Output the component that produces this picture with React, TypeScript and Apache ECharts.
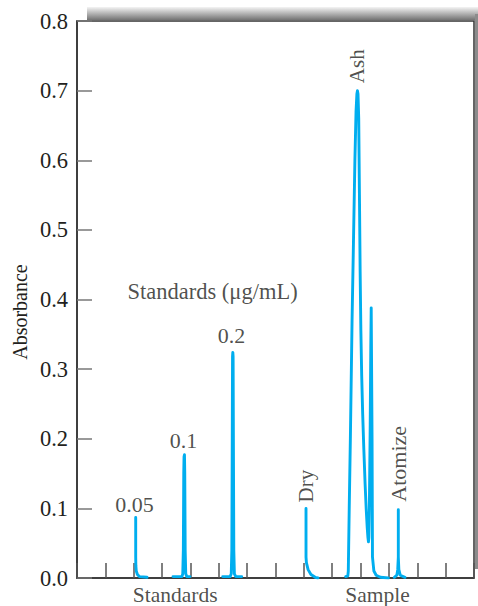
import React, { useEffect, useRef } from "react";
import * as echarts from "echarts";

// x positions are in units of the bottom tick spacing (0..14)
const peak005: number[][] = [
  [2.07, 0.087], [2.07, 0.03], [2.075, 0.018], [2.09, 0.01], [2.13, 0.005], [2.2, 0.002], [2.47, 0.001],
];
const peak01: number[][] = [
  [3.385, 0.002], [3.7, 0.002], [3.73, 0.006], [3.75, 0.04], [3.765, 0.15], [3.775, 0.174], [3.79, 0.177],
  [3.8, 0.15], [3.815, 0.04], [3.835, 0.006], [3.87, 0.002], [3.985, 0.002],
];
const peak02: number[][] = [
  [5.138, 0.002], [5.4, 0.002], [5.44, 0.006], [5.46, 0.04], [5.475, 0.2], [5.485, 0.318], [5.495, 0.324],
  [5.505, 0.318], [5.515, 0.2], [5.53, 0.04], [5.55, 0.006], [5.6, 0.002], [5.808, 0.002],
];
const peakDry: number[][] = [
  [8.076, 0.1], [8.076, 0.03], [8.09, 0.022], [8.15, 0.012], [8.25, 0.005], [8.4, 0.001], [8.5, 0.0],
];
const peakAsh: number[][] = [
  [9.476, 0.002], [9.55, 0.003], [9.567, 0.01], [9.6, 0.1], [9.64, 0.2], [9.7, 0.37], [9.744, 0.47],
  [9.8, 0.6], [9.84, 0.67], [9.87, 0.695], [9.89, 0.7], [9.91, 0.695], [9.935, 0.66], [9.96, 0.55],
  [9.985, 0.44], [10.01, 0.356], [10.04, 0.29], [10.075, 0.235], [10.115, 0.185], [10.16, 0.135],
  [10.2, 0.098], [10.235, 0.072], [10.26, 0.058], [10.278, 0.052], [10.292, 0.058], [10.31, 0.1],
  [10.34, 0.22], [10.36, 0.33], [10.375, 0.388], [10.395, 0.388], [10.405, 0.2], [10.42, 0.03],
  [10.47, 0.01], [10.55, 0.004], [10.7, 0.001], [10.98, 0.0],
];
const peakAtomize: number[][] = [
  [11.19, 0.001], [11.28, 0.004], [11.31, 0.012], [11.331, 0.03], [11.331, 0.098], [11.331, 0.03],
  [11.35, 0.012], [11.4, 0.004], [11.567, 0.001],
];

const annText = ["0.05", "0.1", "0.2", "Standards (\u03bcg/mL)", "Dry", "Ash", "Atomize", "Standards", "Sample"];
const annX = [2.03, 3.755, 5.45, 4.78, 8.09, 9.86, 11.33, 3.46, 10.6];
const annY = [0.106, 0.198, 0.348, 0.411, 0.132, 0.735, 0.164, -0.0245, -0.0245];
const annRotate = [0, 0, 0, 0, 90, 90, 90, 0, 0];
const annSize = [22, 22, 22, 22.5, 21, 21, 22, 21.5, 21.5];

const FONT = "'Liberation Serif', 'Times New Roman', serif";
const INK = "#231f20";
const BLUE = "#00aeef";

export default function App() {
  const ref = useRef<HTMLDivElement>(null);
  useEffect(() => {
    if (!ref.current) return;
    const chart = echarts.init(ref.current, null, { renderer: "svg" });
    const peaks = [peak005, peak01, peak02, peakDry, peakAsh, peakAtomize];
    const lineSeries = peaks.map((d) => ({
      type: "line",
      data: d,
      showSymbol: false,
      symbol: "none",
      smooth: false,
      lineStyle: { color: BLUE, width: 2.9, cap: "round", join: "round" },
      z: 3,
    }));
    const annData = annText.map((t, i) => ({
      value: [annX[i], annY[i]],
      name: t,
      label: { rotate: annRotate[i], fontSize: annSize[i], lineHeight: annSize[i] },
    }));
    chart.setOption({
      animation: false,
      grid: {
        left: 77, right: 4, top: 21, bottom: 28,
        show: true, borderColor: "#333", borderWidth: 1.5, backgroundColor: "transparent",
      },
      xAxis: {
        type: "value", min: 0, max: 14, interval: 1,
        axisLine: { lineStyle: { color: "#333", width: 1.5 } },
        axisTick: { show: true, inside: true, length: 15, lineStyle: { color: "#555", width: 1.5 } },
        axisLabel: { show: false },
        splitLine: { show: false },
      },
      yAxis: {
        type: "value", min: 0, max: 0.8, interval: 0.1,
        axisLine: { show: true, lineStyle: { color: "#333", width: 1.5 } },
        axisTick: { show: true, inside: true, length: 15, lineStyle: { color: "#777", width: 1.5 } },
        axisLabel: {
          margin: 9, fontSize: 22.5, fontFamily: FONT, color: INK,
          formatter: (v: number) => v.toFixed(1),
        },
        splitLine: { show: false },
      },
      graphic: [
        {
          type: "rect", shape: { x: 87, y: 7, width: 391, height: 13.5 }, silent: true,
          style: {
            fill: new echarts.graphic.LinearGradient(0, 0, 0, 1, [
              { offset: 0, color: "#f4f4f4" },
              { offset: 1, color: "#6e6e6e" },
            ]),
          },
        },
        {
          type: "rect", shape: { x: 475, y: 14, width: 3, height: 555 }, silent: true,
          style: { fill: "#8c8c8c" },
        },
        {
          type: "text", x: 20, y: 312, rotation: Math.PI / 2, silent: true,
          style: { text: "Absorbance", font: `20px ${FONT}`, fill: INK, align: "center", verticalAlign: "middle" },
        },
      ],
      series: [
        ...lineSeries,
        {
          type: "scatter",
          data: annData,
          symbolSize: 0,
          clip: false,
          silent: true,
          label: {
            show: true, position: "inside", formatter: (p: any) => p.name,
            fontFamily: FONT, color: INK, align: "center", verticalAlign: "middle",
          },
          z: 4,
        },
      ],
    });
    return () => chart.dispose();
  }, []);
  return <div ref={ref} style={{ position: "absolute", left: 0, top: 0, width: 478, height: 606 }} />;
}
